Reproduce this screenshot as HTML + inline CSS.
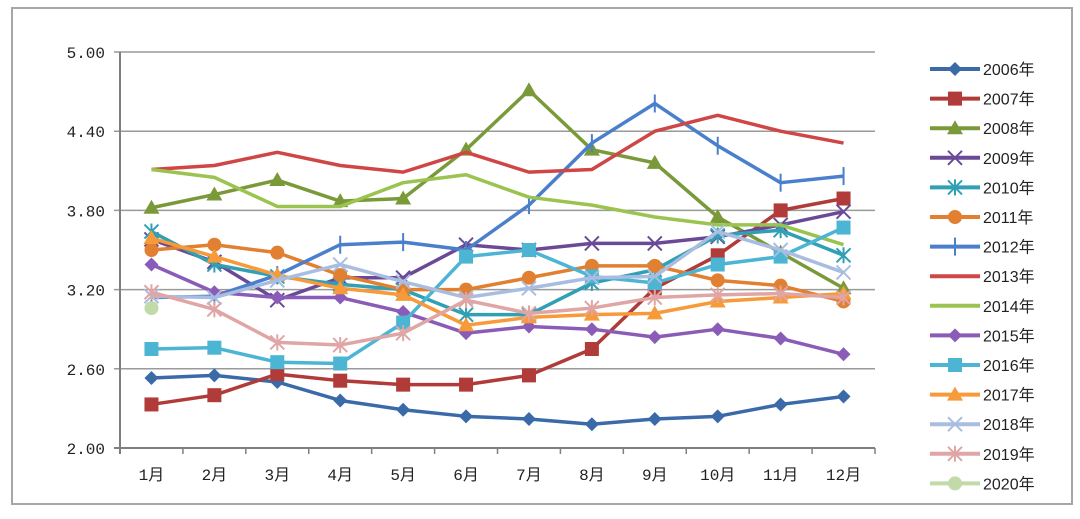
<!DOCTYPE html>
<html><head><meta charset="utf-8"><style>
body{margin:0;background:#fff;}
svg text{font-family:"Liberation Sans","Noto Sans CJK SC",sans-serif;}
svg text.mono{font-family:"Liberation Mono","Noto Sans CJK SC",monospace;}
</style></head><body>
<svg id="c" width="1080" height="514" xmlns="http://www.w3.org/2000/svg">
<rect x="12" y="8" width="1060" height="496" fill="#fff" stroke="#a6a6a6" stroke-width="2"/>
</svg>
<script>
const categories=["1月","2月","3月","4月","5月","6月","7月","8月","9月","10月","11月","12月"];
const yTicks=[2.00,2.60,3.20,3.80,4.40,5.00];
const seriesNames=["2006年","2007年","2008年","2009年","2010年","2011年","2012年","2013年","2014年","2015年","2016年","2017年","2018年","2019年","2020年"];
const s2006=[2.53,2.55,2.50,2.36,2.29,2.24,2.22,2.18,2.22,2.24,2.33,2.39];
const s2007=[2.33,2.40,2.56,2.51,2.48,2.48,2.55,2.75,3.21,3.46,3.80,3.89];
const s2008=[3.82,3.92,4.03,3.87,3.89,4.26,4.71,4.26,4.16,3.75,3.48,3.21];
const s2009=[3.58,3.41,3.12,3.29,3.29,3.54,3.50,3.55,3.55,3.60,3.69,3.79];
const s2010=[3.64,3.39,3.30,3.24,3.20,3.01,3.01,3.25,3.35,3.61,3.65,3.46];
const s2011=[3.50,3.54,3.48,3.31,3.20,3.20,3.29,3.38,3.38,3.27,3.23,3.11];
const s2012=[3.14,3.15,3.31,3.54,3.56,3.50,3.84,4.31,4.61,4.29,4.01,4.06];
const s2013=[4.11,4.14,4.24,4.14,4.09,4.24,4.09,4.11,4.40,4.52,4.40,4.31];
const s2014=[4.11,4.05,3.83,3.83,4.01,4.07,3.90,3.84,3.75,3.69,3.69,3.54];
const s2015=[3.39,3.18,3.14,3.14,3.03,2.87,2.92,2.90,2.84,2.90,2.83,2.71];
const s2016=[2.75,2.76,2.65,2.64,2.95,3.45,3.50,3.30,3.25,3.39,3.45,3.67];
const s2017=[3.59,3.45,3.31,3.21,3.16,2.93,2.99,3.01,3.02,3.11,3.14,3.17];
const s2018=[3.15,3.14,3.27,3.39,3.26,3.14,3.21,3.29,3.30,3.64,3.50,3.33];
const s2019=[3.18,3.05,2.80,2.78,2.87,3.12,3.02,3.06,3.14,3.16,3.17,3.14];
const s2020=[3.06];
const allSeries=[s2006,s2007,s2008,s2009,s2010,s2011,s2012,s2013,s2014,s2015,s2016,s2017,s2018,s2019,s2020];
const colors=["#3a6aa8","#b03b38","#7a9a3a","#6a4a96","#31a0b5","#e08030","#4a7fcc","#d04545","#9bc34f","#8a5cb8","#4bb5d3","#f79a3a","#a9bde0","#e0a5a5","#c2d9a9"];
const markers=["diamond","square","triangle","x","star","circle","plus","none","none","diamond","square","triangle","x","star","circle"];
const NS="http://www.w3.org/2000/svg";
const svg=document.getElementById('c');
const L=120,R=875,T=52,B=448,ymin=2,ymax=5;
const step=(R-L)/categories.length;
function xs(i){return L+step*(i+0.5);}
function ys(v){return B-(v-ymin)/(ymax-ymin)*(B-T);}
function mk(tag,attrs){const e=document.createElementNS(NS,tag);for(const k in attrs)e.setAttribute(k,attrs[k]);svg.appendChild(e);return e;}
yTicks.forEach(t=>{
  const g=mk('line',{x1:L-6,x2:R,y1:ys(t),y2:ys(t),stroke:t===ymin?'#7f7f7f':'#9a9a9a','stroke-width':t===ymin?2:1.5});
  
  
  const tx=mk('text',{x:105,y:ys(t)+6,'text-anchor':'end','font-size':16,fill:'#222','class':'mono'});
  tx.textContent=t.toFixed(2);
  
  
});
const ax=mk('line',{x1:L,x2:L,y1:T,y2:B+6,stroke:'#7f7f7f','stroke-width':2});


for(let i=0;i<=categories.length;i++){
  const tk=mk('line',{x1:L+step*i,x2:L+step*i,y1:B,y2:B+6,stroke:'#7f7f7f','stroke-width':1.5});
  
  
}
categories.forEach((c,i)=>{
  const tx=mk('text',{x:xs(i),y:B+32,'text-anchor':'middle','font-size':16,fill:'#222','class':'mono'});
  tx.textContent=c;
  
  
});
function marker(type,x,y,col){
  let e;
  if(type==='diamond')e=mk('polygon',{points:`${x},${y-7} ${x+7},${y} ${x},${y+7} ${x-7},${y}`,fill:col});
  else if(type==='square')e=mk('rect',{x:x-7,y:y-7,width:14,height:14,fill:col});
  else if(type==='triangle')e=mk('polygon',{points:`${x},${y-8} ${x+8},${y+6} ${x-8},${y+6}`,fill:col});
  else if(type==='circle')e=mk('circle',{cx:x,cy:y,r:7,fill:col});
  else if(type==='x')e=mk('path',{d:`M${x-7},${y-7}L${x+7},${y+7}M${x-7},${y+7}L${x+7},${y-7}`,stroke:col,'stroke-width':2});
  else if(type==='star')e=mk('path',{d:`M${x-7},${y-7}L${x+7},${y+7}M${x-7},${y+7}L${x+7},${y-7}M${x},${y-8}L${x},${y+8}`,stroke:col,'stroke-width':2});
  else if(type==='plus')e=mk('path',{d:`M${x},${y-9}L${x},${y+9}`,stroke:col,'stroke-width':2});
  if(e){}
}
allSeries.forEach((s,k)=>{
  const pts=s.map((v,i)=>xs(i)+','+ys(v)).join(' ');
  if(s.length>1){
    const pl=mk('polyline',{points:pts,fill:'none',stroke:colors[k],'stroke-width':3.5,'stroke-linejoin':'round'});
    
    
  }
  s.forEach((v,i)=>marker(markers[k],xs(i),ys(v),colors[k]));
});
seriesNames.forEach((n,k)=>{
  const y=69+k*29.6;
  const ln=mk('line',{x1:930,x2:980,y1:y,y2:y,stroke:colors[k],'stroke-width':4});
  
  
  marker(markers[k],955,y,colors[k]);
  const tx=mk('text',{x:983,y:y+6,'font-size':16,fill:'#222'});
  tx.textContent=n;
  
  
});
</script>
</body></html>
